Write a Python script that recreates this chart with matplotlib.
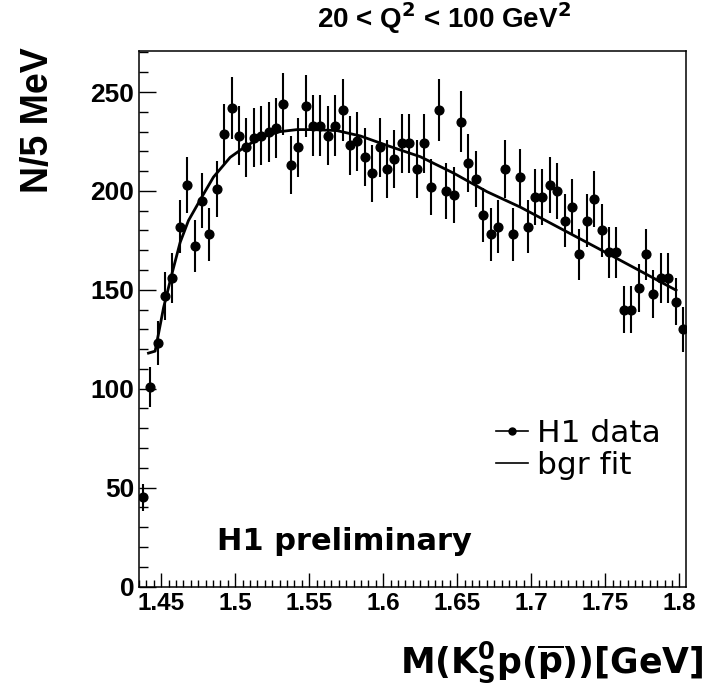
import numpy as np
import matplotlib
matplotlib.use("Agg")
import matplotlib.pyplot as plt
from matplotlib.lines import Line2D
from matplotlib.ticker import MultipleLocator

# K0s p(pbar) mass spectrum, 5 MeV bins, first bin centre 1.4375 GeV
first_bin = 1.4375
bin_width = 0.005
counts = [45, 101, 123, 147, 156, 182, 203, 172, 195, 178,
          201, 229, 242, 228, 222, 227, 228, 230, 232, 244,
          213, 222, 243, 233, 233, 228, 233, 241, 223, 225,
          217, 209, 222, 211, 216, 224, 224, 211, 224, 202,
          241, 200, 198, 235, 214, 206, 188, 178, 182, 211,
          178, 207, 182, 197, 197, 203, 200, 185, 192, 168,
          185, 196, 180, 169, 169, 140, 140, 151, 168, 148,
          156, 156, 144, 130]

# background fit curve
fit_mass = [1.4414, 1.4459, 1.4516, 1.4572, 1.4628, 1.4684, 1.4775, 1.4853,
            1.4966, 1.5079, 1.5191, 1.5304, 1.5417, 1.5529, 1.5687, 1.5845,
            1.6025, 1.6250, 1.6475, 1.6701, 1.6926, 1.745, 1.7978]
fit_counts = [118, 119, 141, 158, 174, 185, 197, 207,
              217, 223, 227.5, 230, 231, 231, 230.5, 227.8,
              223, 217.3, 209, 199.6, 191.8, 171, 149.8]

x_ticks = [1.45, 1.5, 1.55, 1.6, 1.65, 1.7, 1.75, 1.8]
x_tick_labels = ["1.45", "1.5", "1.55", "1.6", "1.65", "1.7", "1.75", "1.8"]
y_ticks = [0, 50, 100, 150, 200, 250]

mass = first_bin + bin_width * np.arange(len(counts))
err = np.sqrt(counts)

plt.rcParams['mathtext.fontset'] = 'dejavusans'

fig = plt.figure(figsize=(7.12, 6.88), dpi=100)
ax = fig.add_axes([139 / 712, 1 - 586.5 / 688, (686 - 139) / 712, (586.5 - 50.5) / 688])

ax.errorbar(mass, counts, yerr=err, fmt='o', color='black', ms=6.3,
            elinewidth=1.5, capsize=0)
ax.plot(fit_mass, fit_counts, color='black', lw=2)

ax.set_xlim(1.435, 1.8045)
ax.set_ylim(0, 271)

ax.set_xticks(x_ticks)
ax.set_xticklabels(x_tick_labels)
ax.set_yticks(y_ticks)
ax.xaxis.set_minor_locator(MultipleLocator(0.005))
ax.yaxis.set_minor_locator(MultipleLocator(10))
ax.tick_params(which='both', direction='in', top=False, right=False, width=1)
ax.tick_params(axis='y', which='major', length=12, pad=3.5)
ax.tick_params(axis='y', which='minor', length=6.5)
ax.tick_params(axis='x', which='major', length=10, pad=4)
ax.tick_params(axis='x', which='minor', length=5)
for lab in ax.get_yticklabels():
    lab.set_fontfamily('Liberation Sans')
    lab.set_fontweight('bold')
    lab.set_fontsize(19)
for lab in ax.get_xticklabels():
    lab.set_fontfamily('Liberation Sans')
    lab.set_fontweight('bold')
    lab.set_fontsize(17.5)
for s in ax.spines.values():
    s.set_linewidth(1.1)

# legend
h_data = Line2D([], [], color='black', marker='o', ms=5, lw=1.2)
h_fit = Line2D([], [], color='black', lw=1.2)
ax.legend([h_data, h_fit], ['H1 data', 'bgr fit'], loc='upper left',
          bbox_to_anchor=(496 / 712, 1 - 419 / 688), bbox_transform=fig.transFigure,
          frameon=False, borderpad=0, borderaxespad=0, labelspacing=0.1,
          handlelength=1.03, handletextpad=0.28,
          prop={'family': 'DejaVu Sans', 'size': 22.5})

fig.text(217 / 712, 1 - 550 / 688, 'H1 preliminary', family='DejaVu Sans',
         weight='bold', size=22, ha='left', va='baseline')

fig.text(444 / 712, 1 - 28 / 688, r'20 < Q$^{\mathbf{2}}$ < 100 GeV$^{\mathbf{2}}$',
         family='Liberation Sans', weight='bold', size=20, ha='center', va='baseline')

fig.text(38 / 712, 1 - 47 / 688, 'N/5 MeV', family='Liberation Sans', weight='bold',
         size=27, rotation=90, ha='center', va='top')

fig.text(703 / 712, 1 - 673 / 688, r'$\mathbf{M(K^{0}_{S}p(\overline{p}))[GeV]}$',
         size=25, ha='right', va='baseline')

fig.savefig('out.png', dpi=100)
